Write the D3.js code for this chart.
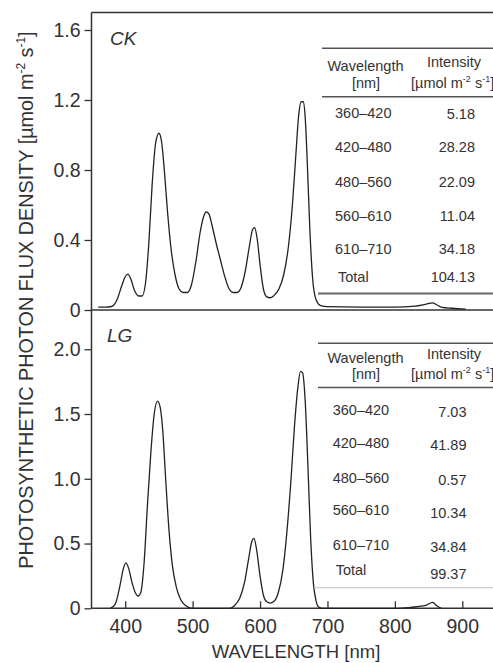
<!DOCTYPE html>
<html>
<head>
<meta charset="utf-8">
<script src="https://cdn.jsdelivr.net/npm/d3@7"></script>
<style>
  html, body { margin: 0; padding: 0; background: #fff; }
  svg { display: block; font-family: "Liberation Sans", Arial, sans-serif; }
</style>
</head>
<body>
<svg id="chart" width="493" height="663"></svg>
<script>
// ---- data ----
const ckWavelength = [360, 370, 380, 388, 395, 400, 404, 408, 414, 420, 425, 430, 435, 440, 445, 450, 454, 458, 463, 468, 474, 480, 486, 492, 498, 505, 511, 516, 520, 524, 529, 535, 541, 547, 553, 560, 566, 572, 578, 584, 589, 592, 596, 600, 605, 610, 615, 620, 628, 635, 642, 648, 653, 657, 661, 664, 667, 670, 674, 678, 683, 690, 700, 750, 800, 830, 845, 856, 862, 870, 885, 905];
const ckFlux = [0.017, 0.017, 0.02, 0.06, 0.14, 0.19, 0.205, 0.18, 0.11, 0.08, 0.08, 0.15, 0.38, 0.72, 0.95, 1.01, 0.96, 0.8, 0.55, 0.35, 0.2, 0.12, 0.1, 0.1, 0.14, 0.28, 0.44, 0.53, 0.56, 0.55, 0.48, 0.38, 0.29, 0.2, 0.13, 0.1, 0.1, 0.13, 0.22, 0.36, 0.46, 0.47, 0.4, 0.26, 0.12, 0.075, 0.07, 0.08, 0.12, 0.2, 0.36, 0.6, 0.88, 1.1, 1.19, 1.19, 1.1, 0.85, 0.45, 0.18, 0.06, 0.025, 0.019, 0.017, 0.017, 0.022, 0.032, 0.041, 0.03, 0.015, 0.01, 0.005];

const lgWavelength = [378, 385, 392, 397, 401, 405, 410, 415, 419, 423, 428, 433, 438, 443, 448, 452, 456, 460, 465, 470, 476, 482, 490, 499, 555, 562, 570, 577, 583, 588, 591, 595, 600, 605, 610, 615, 620, 627, 634, 640, 646, 651, 656, 660, 663, 667, 671, 675, 679, 683, 687, 692, 804, 820, 832, 847, 856, 862, 869];
const lgFlux = [0, 0.03, 0.17, 0.3, 0.35, 0.31, 0.2, 0.12, 0.095, 0.12, 0.35, 0.8, 1.2, 1.5, 1.6, 1.55, 1.35, 1.0, 0.6, 0.33, 0.16, 0.07, 0.02, 0, 0, 0.02, 0.08, 0.2, 0.38, 0.52, 0.54, 0.45, 0.25, 0.1, 0.05, 0.04, 0.05, 0.12, 0.3, 0.6, 1.0, 1.4, 1.7, 1.83, 1.82, 1.6, 1.1, 0.55, 0.2, 0.06, 0.01, 0, 0, 0.005, 0.012, 0.025, 0.046, 0.02, 0];

const bands = ['360–420', '420–480', '480–560', '560–610', '610–710'];
const ckIntensity = ['5.18', '28.28', '22.09', '11.04', '34.18'];
const lgIntensity = ['7.03', '41.89', '0.57', '10.34', '34.84'];
const ckTotal = '104.13';
const lgTotal = '99.37';

const xTicks = [400, 500, 600, 700, 800, 900];
const ckTicks = [0, 0.4, 0.8, 1.2, 1.6];
const lgTicks = [0, 0.5, 1.0, 1.5, 2.0];

// ---- layout ----
const ink = '#333';
const svg = d3.select('#chart');

const x = d3.scaleLinear().domain([350, 950]).range([91.5, 496]);
const yCK = d3.scaleLinear().domain([0, 1.7]).range([310, 12.5]);
const yLG = d3.scaleLinear().domain([0, 2.3]).range([608.3, 310.4]);

const line = (yScale) => d3.line()
  .x(d => x(d[0]))
  .y(d => yScale(d[1]))
  .curve(d3.curveMonotoneX);

// y axes (ticks outward)
function yAxis(scale, ticks, fmt) {
  const g = svg.append('g')
    .attr('transform', `translate(${x(350)},0)`)
    .call(d3.axisLeft(scale).tickValues(ticks).tickSize(7).tickPadding(4).tickFormat(fmt));
  g.select('.domain').remove();
  g.selectAll('line').attr('stroke', ink).attr('stroke-width', 1.3);
  g.selectAll('text')
    .attr('fill', ink)
    .style('font-size', '19.5px')
    .attr('font-family', '"Liberation Sans", Arial, sans-serif');
  return g;
}
yAxis(yCK, ckTicks, d => d === 0 ? '0' : d3.format('.1f')(d));
yAxis(yLG, lgTicks, d => d === 0 ? '0' : d3.format('.1f')(d));

// x axis at bottom (ticks inward)
const xg = svg.append('g')
  .attr('transform', `translate(0,${yLG(0)})`)
  .call(d3.axisBottom(x).tickValues(xTicks).tickSize(-7).tickPadding(11));
xg.select('.domain').remove();
xg.selectAll('line').attr('stroke', ink).attr('stroke-width', 1.3);
xg.selectAll('text')
  .attr('fill', ink)
  .style('font-size', '19.5px')
  .attr('font-family', '"Liberation Sans", Arial, sans-serif');

// frame lines
const frame = svg.append('g').attr('stroke', ink).attr('stroke-width', 1.5).attr('fill', 'none');
frame.append('line').attr('x1', x(350)).attr('x2', 493).attr('y1', yCK.range()[1]).attr('y2', yCK.range()[1]);
frame.append('line').attr('x1', x(350)).attr('x2', 493).attr('y1', yCK(0)).attr('y2', yCK(0));
frame.append('line').attr('x1', x(350)).attr('x2', 493).attr('y1', yLG(0)).attr('y2', yLG(0));
frame.append('line').attr('x1', x(350)).attr('x2', x(350)).attr('y1', yCK.range()[1]).attr('y2', yLG(0));

// spectra
svg.append('path')
  .datum(d3.zip(ckWavelength, ckFlux))
  .attr('d', line(yCK))
  .attr('fill', 'none').attr('stroke', '#222').attr('stroke-width', 1.3);
svg.append('path')
  .datum(d3.zip(lgWavelength, lgFlux))
  .attr('d', line(yLG))
  .attr('fill', 'none').attr('stroke', '#222').attr('stroke-width', 1.3);

// panel labels
svg.append('text').attr('x', 110).attr('y', 45).text('CK')
  .attr('fill', ink).style('font-size', '19px').style('font-style', 'italic');
svg.append('text').attr('x', 107).attr('y', 342).text('LG')
  .attr('fill', ink).style('font-size', '19px').style('font-style', 'italic');

// axis titles
const yTitle = svg.append('text')
  .attr('transform', 'translate(33,300) rotate(-90)')
  .attr('text-anchor', 'middle')
  .attr('fill', ink)
  .style('font-size', '19.8px');
yTitle.append('tspan').text('PHOTOSYNTHETIC PHOTON FLUX DENSITY [µmol m');
yTitle.append('tspan').text('-2').attr('dy', -8).style('font-size', '12px');
yTitle.append('tspan').text(' s').attr('dy', 8);
yTitle.append('tspan').text('-1').attr('dy', -8).style('font-size', '12px');
yTitle.append('tspan').text(']').attr('dy', 8);

svg.append('text')
  .attr('x', 296).attr('y', 658)
  .attr('text-anchor', 'middle')
  .attr('fill', ink)
  .style('font-size', '18.5px')
  .text('WAVELENGTH [nm]');

// ---- inset tables ----
function table(opt) {
  const g = svg.append('g').attr('fill', ink).style('font-size', '14.5px');
  g.append('line').attr('x1', opt.left).attr('x2', 493).attr('y1', opt.top).attr('y2', opt.top)
    .attr('stroke', '#555').attr('stroke-width', 1.5);
  g.append('line').attr('x1', opt.left).attr('x2', 493).attr('y1', opt.headLine).attr('y2', opt.headLine)
    .attr('stroke', '#555').attr('stroke-width', 1.5);
  g.append('line').attr('x1', opt.left - 4).attr('x2', 493).attr('y1', opt.bottom).attr('y2', opt.bottom)
    .attr('stroke', opt.bottomColor).attr('stroke-width', opt.bottomWidth);

  g.append('text').attr('x', 365.5).attr('y', opt.head1).attr('text-anchor', 'middle').text('Wavelength');
  g.append('text').attr('x', 366).attr('y', opt.head2).attr('text-anchor', 'middle').text('[nm]');
  g.append('text').attr('x', 454).attr('y', opt.head1 - 4).attr('text-anchor', 'middle').text('Intensity');
  const u = g.append('text').attr('x', 411).attr('y', opt.head2);
  u.append('tspan').text('[µmol m');
  u.append('tspan').text('-2').attr('dy', -6).style('font-size', '9px');
  u.append('tspan').text(' s').attr('dy', 6);
  u.append('tspan').text('-1').attr('dy', -6).style('font-size', '9px');
  u.append('tspan').text(']').attr('dy', 6);

  g.selectAll('.band').data(bands).join('text')
    .attr('class', 'band')
    .attr('x', opt.labelX)
    .attr('y', (d, i) => opt.rowY[i])
    .text(d => d);
  g.selectAll('.val').data(opt.values).join('text')
    .attr('class', 'val')
    .attr('x', opt.valueX)
    .attr('y', (d, i) => opt.valY[i])
    .attr('text-anchor', 'end')
    .text(d => d);
  g.append('text').attr('x', opt.labelX + 3).attr('y', opt.rowY[5]).text('Total');
  g.append('text').attr('x', opt.valueX).attr('y', opt.valY[5]).attr('text-anchor', 'end').text(opt.total);
}

table({
  left: 322, top: 48.3, headLine: 96.7, bottom: 293.5,
  bottomColor: '#666', bottomWidth: 2.2,
  head1: 70.5, head2: 87.5,
  labelX: 335, valueX: 475,
  rowY: [118.3, 151.7, 186.7, 220.7, 254.3, 281.7],
  valY: [119, 151.7, 187, 221, 254.3, 281.7],
  values: ckIntensity, total: ckTotal
});

table({
  left: 318, top: 343.3, headLine: 387.5, bottom: 587.7,
  bottomColor: '#ccc', bottomWidth: 1.2,
  head1: 362.5, head2: 378.5,
  labelX: 332.7, valueX: 466.5,
  rowY: [415, 448.3, 482.7, 515, 550, 575],
  valY: [416.7, 450, 485, 518.3, 551.7, 579],
  values: lgIntensity, total: lgTotal
});
</script>
</body>
</html>
